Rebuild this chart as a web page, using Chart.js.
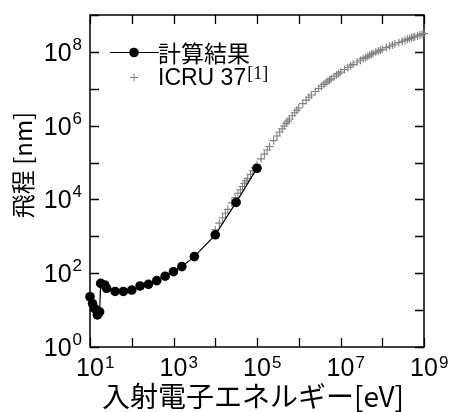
<!DOCTYPE html>
<html>
<head>
<meta charset="utf-8">
<script src="https://cdn.jsdelivr.net/npm/chart.js@4"></script>
<style>
  html, body { margin: 0; padding: 0; background: #fff; }
  canvas { display: block; }
</style>
</head>
<body>
<canvas id="chart" width="453" height="412"></canvas>
<script>
// calculated range (black dots + line)
const energyCalc = [10, 11.5, 13, 15, 17, 18, 22.5, 25, 40, 63, 100, 158, 251, 398, 631, 1000, 1585, 3162, 10000, 31623, 100000];
const rangeCalc = [23, 15, 11, 7.4, 9, 53, 48, 39, 32, 32, 35, 45, 50, 63, 83, 110, 151, 282, 1100, 8300, 70000];

// ICRU 37 reference values (grey crosses)
const energyIcru = [
  1e4, 1.25e4, 1.5e4, 1.75e4, 2e4, 2.5e4, 3e4, 3.5e4, 4e4, 4.5e4, 5e4, 5.5e4, 6e4, 7e4, 8e4, 9e4,
  1e5, 1.25e5, 1.5e5, 1.75e5, 2e5, 2.5e5, 3e5, 3.5e5, 4e5, 4.5e5, 5e5, 5.5e5, 6e5, 7e5, 8e5, 9e5,
  1e6, 1.25e6, 1.5e6, 1.75e6, 2e6, 2.5e6, 3e6, 3.5e6, 4e6, 4.5e6, 5e6, 5.5e6, 6e6, 7e6, 8e6, 9e6,
  1e7, 1.25e7, 1.5e7, 1.75e7, 2e7, 2.5e7, 3e7, 3.5e7, 4e7, 4.5e7, 5e7, 5.5e7, 6e7, 7e7, 8e7, 9e7,
  1e8, 1.25e8, 1.5e8, 1.75e8, 2e8, 2.5e8, 3e8, 3.5e8, 4e8, 4.5e8, 5e8, 5.5e8, 6e8, 7e8, 8e8, 9e8,
  1e9
];
const rangeIcru = [
  1510, 2280, 3190, 4240, 5390, 8060, 11200, 14700, 18400, 22500, 27000, 31800, 36900, 47900, 59900, 72900,
  87100, 1.26e5, 1.69e5, 2.18e5, 2.72e5, 3.92e5, 5.27e5, 6.71e5, 8.22e5, 9.84e5, 1.156e6, 1.33e6, 1.51e6, 1.86e6, 2.23e6, 2.61e6,
  3.02e6, 3.95e6, 4.91e6, 5.91e6, 6.78e6, 8.47e6, 1.016e7, 1.17e7, 1.32e7, 1.46e7, 1.60e7, 1.74e7, 1.87e7, 2.12e7, 2.36e7, 2.59e7,
  2.82e7, 3.31e7, 3.78e7, 4.22e7, 4.60e7, 5.31e7, 5.96e7, 6.55e7, 7.10e7, 7.62e7, 8.11e7, 8.59e7, 9.02e7, 9.77e7, 1.047e8, 1.114e8,
  1.175e8, 1.309e8, 1.426e8, 1.538e8, 1.63e8, 1.80e8, 1.95e8, 2.08e8, 2.19e8, 2.30e8, 2.40e8, 2.49e8, 2.58e8, 2.74e8, 2.89e8, 3.03e8,
  3.16e8
];

// axis ticks (powers of ten) and which of them carry a label
const xTickPowers = [1, 2, 3, 4, 5, 6, 7, 8, 9];
const xLabelPowers = [1, 3, 5, 7, 9];
const yTickPowers = [0, 1, 2, 3, 4, 5, 6, 7, 8, 9];
const yLabelPowers = [0, 2, 4, 6, 8];

const xTitle = '入射電子エネルギー[eV]';
const yTitle = '飛程 [nm]';
const legendCalc = '計算結果';
const legendIcru = 'ICRU 37';
const legendRef = '[1]';

const SANS = '"Liberation Sans", Arial, sans-serif';
const CJK = '"Noto Sans CJK JP", sans-serif';
const GREY = '#808080';

const toPoints = (xs, ys) => xs.map((x, i) => ({x: x, y: ys[i]}));

// frame, inward ticks, labels with superscripts, titles, legend
const decorations = {
  id: 'decorations',
  beforeDatasetsDraw(chart) {
    const {ctx, chartArea: a, scales: {x, y}} = chart;
    ctx.save();
    ctx.strokeStyle = '#000';
    ctx.lineWidth = 1.5;
    ctx.strokeRect(a.left, a.top, a.right - a.left, a.bottom - a.top);
    ctx.lineWidth = 1.3;
    ctx.beginPath();
    xTickPowers.forEach(p => {
      const px = Math.round(x.getPixelForValue(10 ** p)) + 0.5;
      ctx.moveTo(px, a.bottom); ctx.lineTo(px, a.bottom - 9);
      ctx.moveTo(px, a.top); ctx.lineTo(px, a.top + 9);
    });
    yTickPowers.forEach(p => {
      const py = Math.round(y.getPixelForValue(10 ** p)) + 0.5;
      ctx.moveTo(a.left, py); ctx.lineTo(a.left + 9, py);
      ctx.moveTo(a.right, py); ctx.lineTo(a.right - 9, py);
    });
    ctx.stroke();
    ctx.restore();
  },
  afterDraw(chart) {
    const {ctx, chartArea: a, scales: {x, y}} = chart;
    ctx.save();
    ctx.fillStyle = '#000';
    ctx.textBaseline = 'alphabetic';

    // x tick labels: "10" centred on the tick, exponent after it
    xLabelPowers.forEach(p => {
      const px = x.getPixelForValue(10 ** p);
      ctx.font = '25px ' + SANS;
      const w = ctx.measureText('10').width;
      ctx.textAlign = 'left';
      ctx.fillText('10', px - w / 2, a.bottom + 29);
      ctx.font = '17px ' + SANS;
      ctx.fillText(String(p), px + w / 2 + 1, a.bottom + 21);
    });

    // y tick labels: right aligned left of the axis
    yLabelPowers.forEach(p => {
      const py = y.getPixelForValue(10 ** p);
      ctx.font = '17px ' + SANS;
      const ws = ctx.measureText(String(p)).width;
      const right = a.left - 8;
      ctx.textAlign = 'left';
      ctx.fillText(String(p), right - ws, py - 2);
      ctx.font = '25px ' + SANS;
      const w = ctx.measureText('10').width;
      ctx.fillText('10', right - ws - w - 1, py + 9);
    });

    // axis titles
    ctx.font = '28px ' + CJK;
    ctx.textAlign = 'center';
    ctx.textBaseline = 'middle';
    ctx.fillText(xTitle, (a.left + a.right) / 2 - 4, 396);
    ctx.save();
    ctx.translate(23, 165);
    ctx.rotate(-Math.PI / 2);
    ctx.font = '24px ' + CJK;
    ctx.fillText(yTitle, 0, 0);
    ctx.restore();

    // legend
    ctx.strokeStyle = '#000';
    ctx.lineWidth = 1.2;
    ctx.beginPath();
    ctx.moveTo(110, 52.5); ctx.lineTo(159, 52.5);
    ctx.stroke();
    ctx.beginPath();
    ctx.arc(134, 52.5, 4.8, 0, Math.PI * 2);
    ctx.fill();
    ctx.strokeStyle = GREY;
    ctx.lineWidth = 1;
    ctx.beginPath();
    ctx.moveTo(130, 77.5); ctx.lineTo(138, 77.5);
    ctx.moveTo(134, 73.5); ctx.lineTo(134, 81.5);
    ctx.stroke();

    ctx.textAlign = 'left';
    ctx.textBaseline = 'middle';
    ctx.font = '23px ' + CJK;
    ctx.fillText(legendCalc, 158, 53);
    ctx.textBaseline = 'alphabetic';
    ctx.font = '23px ' + SANS;
    ctx.fillText(legendIcru, 158, 85);
    const wi = ctx.measureText(legendIcru).width;
    ctx.font = '18px "Liberation Serif", serif';
    ctx.fillText(legendRef, 158 + wi + 1, 79);
    ctx.restore();
  }
};

new Chart(document.getElementById('chart'), {
  type: 'scatter',
  data: {
    datasets: [
      {
        label: legendCalc,
        data: toPoints(energyCalc, rangeCalc),
        showLine: true,
        borderColor: '#000',
        borderWidth: 1.2,
        backgroundColor: '#000',
        pointRadius: 4.8,
        pointBorderWidth: 0,
        pointHoverRadius: 4.8,
        clip: false,
        order: 0
      },
      {
        label: legendIcru,
        data: toPoints(energyIcru, rangeIcru),
        showLine: false,
        pointStyle: 'cross',
        pointRadius: 4,
        pointBorderWidth: 1.1,
        borderColor: GREY,
        backgroundColor: GREY,
        clip: false,
        order: 1
      }
    ]
  },
  options: {
    responsive: false,
    animation: false,
    devicePixelRatio: 1,
    layout: {padding: {left: 90, right: 29, top: 15, bottom: 65}},
    plugins: {
      legend: {display: false},
      tooltip: {enabled: false}
    },
    scales: {
      x: {type: 'logarithmic', min: 10, max: 1e9, display: false},
      y: {type: 'logarithmic', min: 1, max: 1e9, display: false}
    }
  },
  plugins: [decorations]
});
</script>
</body>
</html>
